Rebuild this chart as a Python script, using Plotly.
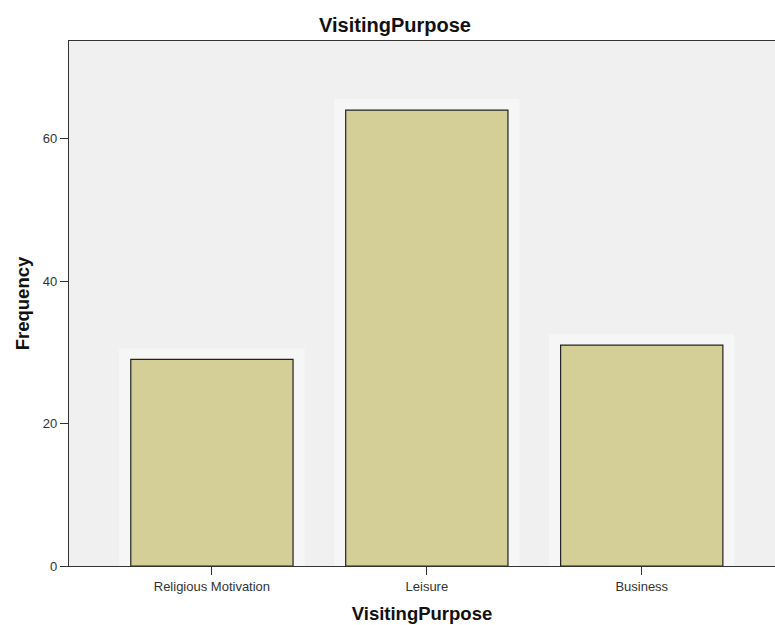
import plotly.graph_objects as go

categories = ["Religious Motivation", "Leisure", "Business"]
frequency = [29, 64, 31]
y_ticks = [0, 20, 40, 60]

FONT = "Arial, Liberation Sans, sans-serif"
BAR = "#d4cf97"

fig = go.Figure()
# soft halo behind bars (SPSS style)
fig.add_trace(go.Bar(
    x=categories, y=frequency, width=0.76,
    marker=dict(color="#f6f6f6", line=dict(color="#f6f6f6", width=22)),
    hoverinfo="skip", showlegend=False,
))
fig.add_trace(go.Bar(
    x=categories, y=frequency, width=0.755,
    marker=dict(color=BAR, line=dict(color="#222222", width=1.2)),
    showlegend=False,
))

fig.update_layout(
    width=775, height=625,
    margin=dict(l=69, r=0, t=41, b=59),
    paper_bgcolor="white",
    plot_bgcolor="#f0f0f0",
    barmode="overlay",
    font=dict(family=FONT, color="#222222"),
    title=dict(text="<b>VisitingPurpose</b>", font=dict(size=20, color="#111111"),
               xref="container", x=395 / 775, xanchor="center",
               yref="container", y=1 - 25 / 625, yanchor="middle"),
    xaxis=dict(
        range=[-0.665, 2.62], showgrid=False, zeroline=False,
        showline=True, linecolor="#333333", linewidth=1.2, mirror=True,
        ticks="outside", ticklen=8, tickcolor="#333333",
        tickfont=dict(size=13, color="#333333"),
        title=dict(text="<b>VisitingPurpose</b>", font=dict(size=18.5, color="#111111"), standoff=14),
    ),
    yaxis=dict(
        range=[0, 73.7], tickvals=y_ticks, showgrid=False, zeroline=False,
        showline=True, linecolor="#333333", linewidth=1.2,
        ticks="outside", ticklen=8, tickcolor="#333333",
        tickfont=dict(size=13, color="#333333"),
        title=dict(text="<b>Frequency</b>", font=dict(size=18.5, color="#111111"), standoff=8),
    ),
)

fig.write_html(
    "out.html",
    config={"displayModeBar": False},
    post_script="document.body.style.margin='0';document.body.style.overflow='hidden';",
)
